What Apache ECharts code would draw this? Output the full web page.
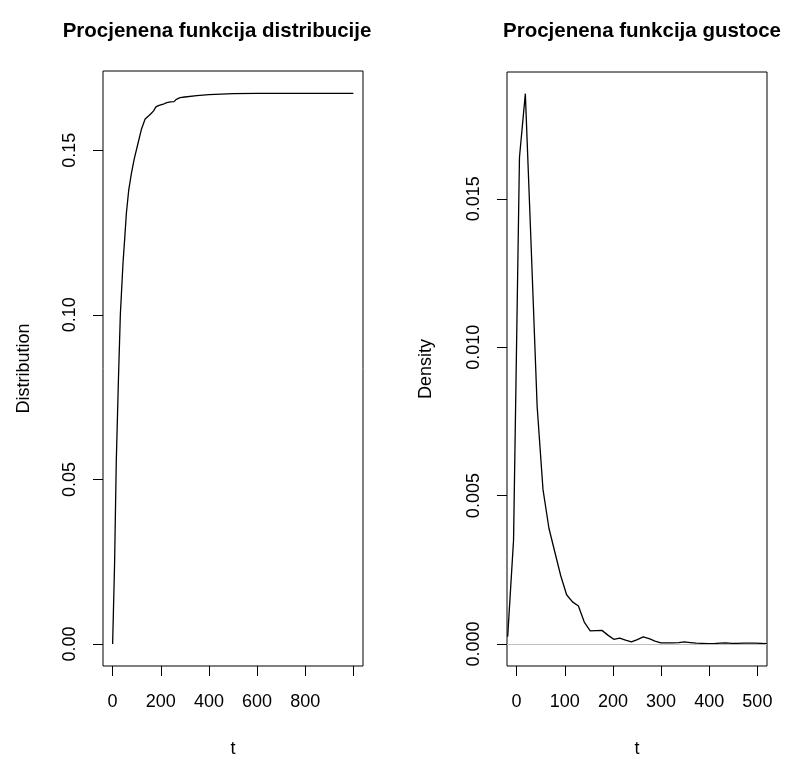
<!DOCTYPE html>
<html>
<head>
<meta charset="utf-8">
<script src="https://cdn.jsdelivr.net/npm/echarts@6/dist/echarts.min.js"></script>
<style>
html,body{margin:0;padding:0;background:#fff;}
#chart{width:797px;height:758px;}
</style>
</head>
<body>
<div id="chart"></div>
<script>
// Left panel: estimated distribution function
const distT = [0, 8, 15, 24, 32, 43, 50, 57, 67, 78, 90, 105, 120, 135, 140, 150, 160, 170, 180, 190, 210, 225, 240, 255, 265, 280, 300, 350, 400, 500, 600, 1000];
const distV = [0, 0.024, 0.055, 0.080, 0.100, 0.1156, 0.123, 0.1308, 0.138, 0.143, 0.1475, 0.152, 0.1565, 0.1595, 0.160, 0.1605, 0.1612, 0.162, 0.1632, 0.1636, 0.164, 0.1645, 0.1647, 0.1648, 0.1655, 0.166, 0.1662, 0.1666, 0.1669, 0.1672, 0.1673, 0.1673];
const distXTicks = [0, 200, 400, 600, 800, 1000];
const distXLabels = [0, 200, 400, 600, 800];
const distYTicks = [0, 0.05, 0.10, 0.15];

// Right panel: estimated density function
const densT = [-18.6, -6.4, 5.9, 18.1, 30.4, 42.6, 54.8, 67.1, 79.3, 91.6, 103.8, 116.0, 128.3, 140.5, 152.8, 165.0, 177.2, 189.5, 201.7, 214.0, 226.2, 238.4, 250.7, 262.9, 275.2, 287.4, 299.6, 311.9, 324.1, 336.4, 348.6, 360.8, 373.1, 385.3, 397.6, 409.8, 422.0, 434.3, 446.5, 458.8, 471.0, 483.2, 495.5, 507.7, 520.0];
const densV = [0.00025, 0.0035, 0.0164, 0.01854, 0.0133, 0.0080, 0.0052, 0.0039, 0.0031, 0.0023, 0.00166, 0.00142, 0.00128, 0.00074, 0.00044, 0.00045, 0.00046, 0.00030, 0.00016, 0.00020, 0.00013, 0.00007, 0.00015, 0.00024, 0.00018, 0.00010, 0.00004, 0.00004, 0.00004, 0.00005, 0.00007, 0.00005, 0.00003, 0.00002, 0.00001, 0.00001, 0.00003, 0.00004, 0.00002, 0.00002, 0.00003, 0.00003, 0.00003, 0.00002, 0.00001];
const densXTicks = [0, 100, 200, 300, 400, 500];
const densYTicks = [0, 0.005, 0.010, 0.015];

const FONT = 'Liberation Sans, Arial, Helvetica, sans-serif';
const FS = 18;

function xAxisCfg(gi, min, max, ticks, labels) {
  return {
    type: 'value', gridIndex: gi, min: min, max: max, position: 'bottom',
    name: 't', nameLocation: 'middle', nameGap: 74,
    nameTextStyle: {fontFamily: FONT, fontSize: FS, color: '#000'},
    splitLine: {show: false},
    axisLine: {show: false, onZero: false},
    axisTick: {show: true, inside: false, length: 10, customValues: ticks, lineStyle: {color: '#000', width: 1}},
    axisLabel: {show: true, margin: 27, customValues: labels, color: '#000', fontFamily: FONT, fontSize: FS,
      formatter: v => String(v)}
  };
}
function yAxisCfg(gi, min, max, ticks, name, digits, gap) {
  return {
    type: 'value', gridIndex: gi, min: min, max: max, position: 'left',
    name: name, nameLocation: 'middle', nameGap: gap, nameRotate: 90,
    nameTextStyle: {fontFamily: FONT, fontSize: FS, color: '#000'},
    splitLine: {show: false},
    axisLine: {show: false, onZero: false},
    axisTick: {show: true, inside: false, length: 10, customValues: ticks, lineStyle: {color: '#000', width: 1}},
    axisLabel: {show: true, margin: 24, rotate: 90, customValues: ticks, color: '#000', fontFamily: FONT, fontSize: FS,
      formatter: v => Number(v).toFixed(digits)}
  };
}

const chart = echarts.init(document.getElementById('chart'), null, {renderer: 'canvas'});
chart.setOption({
  animation: false,
  backgroundColor: '#fff',
  title: [
    {text: 'Procjenena funkcija distribucije', left: 212, top: 16, textAlign: 'center',
     textStyle: {fontFamily: FONT, fontSize: 20.5, fontWeight: 'bold', color: '#000'}},
    {text: 'Procjenena funkcija gustoce', left: 637, top: 16, textAlign: 'center',
     textStyle: {fontFamily: FONT, fontSize: 20.5, fontWeight: 'bold', color: '#000'}}
  ],
  grid: [
    {left: 103, top: 71, width: 260, height: 595, show: true, borderColor: '#000', borderWidth: 1,
     backgroundColor: 'transparent', containLabel: false, outerBoundsMode: 'none'},
    {left: 507, top: 72, width: 260, height: 594, show: true, borderColor: '#000', borderWidth: 1,
     backgroundColor: 'transparent', containLabel: false, outerBoundsMode: 'none'}
  ],
  xAxis: [
    xAxisCfg(0, -40, 1040, distXTicks, distXLabels),
    xAxisCfg(1, -20, 520, densXTicks, densXTicks)
  ],
  yAxis: [
    yAxisCfg(0, -0.0067, 0.1741, distYTicks, 'Distribution', 2, 70),
    yAxisCfg(1, -0.00074, 0.01927, densYTicks, 'Density', 3, 72)
  ],
  series: [
    {type: 'line', xAxisIndex: 0, yAxisIndex: 0, showSymbol: false, symbol: 'none',
     lineStyle: {color: '#000', width: 1.3},
     data: distT.map((t, i) => [t, distV[i]])},
    {type: 'line', xAxisIndex: 1, yAxisIndex: 1, showSymbol: false, symbol: 'none',
     lineStyle: {color: '#000', width: 1.3}, z: 3,
     data: densT.map((t, i) => [t, densV[i]]),
     markLine: {silent: true, symbol: 'none', label: {show: false},
       lineStyle: {color: '#bebebe', type: 'solid', width: 1},
       data: [{yAxis: 0}]}}
  ]
});
</script>
</body>
</html>
